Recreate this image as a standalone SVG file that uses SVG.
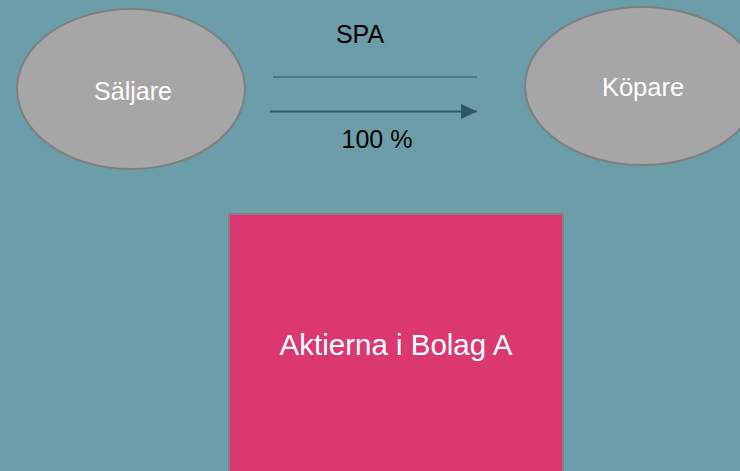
<svg xmlns="http://www.w3.org/2000/svg" width="740" height="471" viewBox="0 0 740 471">
<style>
.bg{fill:#6b9ea8}
.ell{fill:#a6a6a6;stroke:#7f7f7f;stroke-width:2}
.wt{font-family:"Liberation Sans",Arial,sans-serif;fill:#ffffff;text-anchor:middle}
.bt{font-family:"Liberation Sans",Arial,sans-serif;fill:#000000;text-anchor:middle;font-size:25px}
.ln{stroke:#2e5a63;fill:none}
</style>
<defs>
<marker id="ah" markerUnits="userSpaceOnUse" markerWidth="16" markerHeight="16" viewBox="0 0 16 16" refX="16" refY="8" orient="auto">
<path d="M0,0.5 L16,8 L0,15.5 Z" fill="#2c555d"/>
</marker>
</defs>
<rect class="bg" x="0" y="0" width="740" height="471"/>
<g id="saljare">
<ellipse class="ell" cx="131" cy="89" rx="114" ry="80"/>
<text class="wt" x="133" y="100" font-size="25">Säljare</text>
</g>
<g id="kopare">
<ellipse class="ell" cx="642" cy="86" rx="117" ry="79"/>
<text class="wt" x="643" y="96" font-size="25.5">Köpare</text>
</g>
<g id="aktier">
<rect x="229" y="214" width="334" height="270" fill="#dc3870" stroke="#808080" stroke-width="2"/>
<text class="wt" x="396" y="355" font-size="29.5">Aktierna i Bolag A</text>
</g>
<g id="connectors">
<line class="ln" x1="273" y1="77" x2="477" y2="77" stroke-width="1.2"/>
<line class="ln" x1="270" y1="111.5" x2="477" y2="111.5" stroke-width="2.2" stroke="#2c555d" marker-end="url(#ah)"/>
<text class="bt" x="360" y="43">SPA</text>
<text class="bt" x="377" y="148">100 %</text>
</g>
</svg>
